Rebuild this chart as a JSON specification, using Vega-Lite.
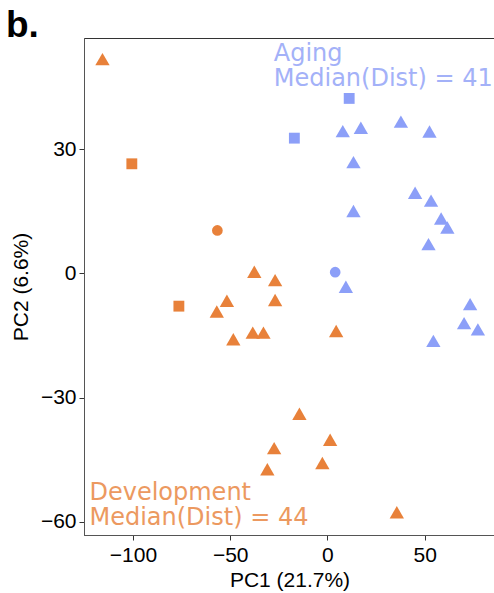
{
  "$schema": "https://vega.github.io/schema/vega-lite/v6.json",
  "width": 411,
  "height": 497,
  "autosize": "none",
  "padding": {"left": 84, "top": 38, "right": 0, "bottom": 58},
  "background": "white",
  "title": {
    "text": "b.",
    "anchor": "start",
    "frame": "group",
    "orient": "top",
    "baseline": "alphabetic",
    "font": "Liberation Sans",
    "fontWeight": "bold",
    "fontSize": 37,
    "color": "#000000",
    "offset": 0,
    "dx": -78,
    "dy": 36
  },
  "config": {
    "view": {"stroke": "#333333", "strokeWidth": 1},
    "axis": {
      "grid": false,
      "domainColor": "#555555",
      "tickColor": "#333333",
      "tickSize": 5,
      "labelFont": "Liberation Sans",
      "labelFontSize": 21,
      "labelColor": "#000000",
      "titleFont": "Liberation Sans",
      "titleFontSize": 21,
      "titleFontWeight": "normal",
      "titleColor": "#000000"
    }
  },
  "datasets": {
    "pca": [
      {"group": "Development", "type": "Type 3", "PC1": -115.7, "PC2": 51.8},
      {"group": "Development", "type": "Type 2", "PC1": -100.6, "PC2": 26.5},
      {"group": "Development", "type": "Type 1", "PC1": -56.6, "PC2": 10.4},
      {"group": "Development", "type": "Type 2", "PC1": -76.4, "PC2": -7.9},
      {"group": "Development", "type": "Type 3", "PC1": -51.7, "PC2": -6.6},
      {"group": "Development", "type": "Type 3", "PC1": -56.9, "PC2": -9.2},
      {"group": "Development", "type": "Type 3", "PC1": -48.4, "PC2": -15.9},
      {"group": "Development", "type": "Type 3", "PC1": -37.6, "PC2": 0.4},
      {"group": "Development", "type": "Type 3", "PC1": -26.9, "PC2": -1.6},
      {"group": "Development", "type": "Type 3", "PC1": -26.9, "PC2": -6.4},
      {"group": "Development", "type": "Type 3", "PC1": -38.4, "PC2": -14.3},
      {"group": "Development", "type": "Type 3", "PC1": -32.9, "PC2": -14.3},
      {"group": "Development", "type": "Type 3", "PC1": 4.5, "PC2": -13.9},
      {"group": "Development", "type": "Type 3", "PC1": -14.4, "PC2": -33.9},
      {"group": "Development", "type": "Type 3", "PC1": 1.4, "PC2": -40.2},
      {"group": "Development", "type": "Type 3", "PC1": -27.4, "PC2": -42.2},
      {"group": "Development", "type": "Type 3", "PC1": -2.6, "PC2": -45.8},
      {"group": "Development", "type": "Type 3", "PC1": -30.9, "PC2": -47.3},
      {"group": "Development", "type": "Type 3", "PC1": 35.7, "PC2": -57.7},
      {"group": "Aging", "type": "Type 2", "PC1": 11.2, "PC2": 42.3},
      {"group": "Aging", "type": "Type 2", "PC1": -17.0, "PC2": 32.7},
      {"group": "Aging", "type": "Type 3", "PC1": 7.9, "PC2": 34.4},
      {"group": "Aging", "type": "Type 3", "PC1": 17.2, "PC2": 35.2},
      {"group": "Aging", "type": "Type 3", "PC1": 37.8, "PC2": 36.7},
      {"group": "Aging", "type": "Type 3", "PC1": 52.5, "PC2": 34.3},
      {"group": "Aging", "type": "Type 3", "PC1": 13.4, "PC2": 26.9},
      {"group": "Aging", "type": "Type 3", "PC1": 13.4, "PC2": 15.1},
      {"group": "Aging", "type": "Type 3", "PC1": 45.1, "PC2": 19.5},
      {"group": "Aging", "type": "Type 3", "PC1": 53.3, "PC2": 17.6},
      {"group": "Aging", "type": "Type 3", "PC1": 58.5, "PC2": 13.3},
      {"group": "Aging", "type": "Type 3", "PC1": 61.7, "PC2": 11.1},
      {"group": "Aging", "type": "Type 3", "PC1": 52.0, "PC2": 7.1},
      {"group": "Aging", "type": "Type 1", "PC1": 4.0, "PC2": 0.3},
      {"group": "Aging", "type": "Type 3", "PC1": 9.5, "PC2": -3.2},
      {"group": "Aging", "type": "Type 3", "PC1": 73.4, "PC2": -7.4},
      {"group": "Aging", "type": "Type 3", "PC1": 70.3, "PC2": -12.0},
      {"group": "Aging", "type": "Type 3", "PC1": 77.4, "PC2": -13.5},
      {"group": "Aging", "type": "Type 3", "PC1": 54.5, "PC2": -16.3}
    ]
  },
  "layer": [
    {
      "data": {"name": "pca"},
      "transform": [{"filter": "datum.type === 'Type 3'"}],
      "mark": {"type": "point", "shape": "triangle-up", "filled": true, "opacity": 1, "size": 205},
      "encoding": {
        "x": {
          "field": "PC1",
          "type": "quantitative",
          "scale": {"domain": [-125.2, 86.2], "nice": false, "zero": false},
          "axis": {"values": [-100, -50, 0, 50], "title": "PC1 (21.7%)", "titlePadding": 4, "labelPadding": 4}
        },
        "y": {
          "field": "PC2",
          "type": "quantitative",
          "scale": {"domain": [-63.2, 56.9], "nice": false, "zero": false},
          "axis": {"values": [-60, -30, 0, 30], "title": "PC2 (6.6%)", "titlePadding": 9, "labelPadding": 3}
        },
        "color": {
          "field": "group",
          "type": "nominal",
          "scale": {"domain": ["Development", "Aging"], "range": ["#E8813A", "#8C9FF8"]},
          "legend": null
        }
      }
    },
    {
      "data": {"name": "pca"},
      "transform": [{"filter": "datum.type === 'Type 2'"}],
      "mark": {"type": "point", "shape": "square", "filled": true, "opacity": 1, "size": 118},
      "encoding": {
        "x": {"field": "PC1", "type": "quantitative"},
        "y": {"field": "PC2", "type": "quantitative"},
        "color": {"field": "group", "type": "nominal", "legend": null}
      }
    },
    {
      "data": {"name": "pca"},
      "transform": [{"filter": "datum.type === 'Type 1'"}],
      "mark": {"type": "point", "shape": "circle", "filled": true, "opacity": 1, "size": 115},
      "encoding": {
        "x": {"field": "PC1", "type": "quantitative"},
        "y": {"field": "PC2", "type": "quantitative"},
        "color": {"field": "group", "type": "nominal", "legend": null}
      }
    },
    {
      "data": {"values": [{"label": "Aging\nMedian(Dist) = 41"}]},
      "mark": {
        "type": "text",
        "align": "left",
        "baseline": "alphabetic",
        "font": "DejaVu Sans",
        "fontSize": 24,
        "lineHeight": 25,
        "lineBreak": "\n",
        "color": "#A3B1F8"
      },
      "encoding": {
        "x": {"datum": -27.6},
        "y": {"datum": 51.3},
        "text": {"field": "label"}
      }
    },
    {
      "data": {"values": [{"label": "Development\nMedian(Dist) = 44"}]},
      "mark": {
        "type": "text",
        "align": "left",
        "baseline": "alphabetic",
        "font": "DejaVu Sans",
        "fontSize": 24,
        "lineHeight": 25,
        "lineBreak": "\n",
        "color": "#EC9960"
      },
      "encoding": {
        "x": {"datum": -122.4},
        "y": {"datum": -54.7},
        "text": {"field": "label"}
      }
    }
  ]
}
